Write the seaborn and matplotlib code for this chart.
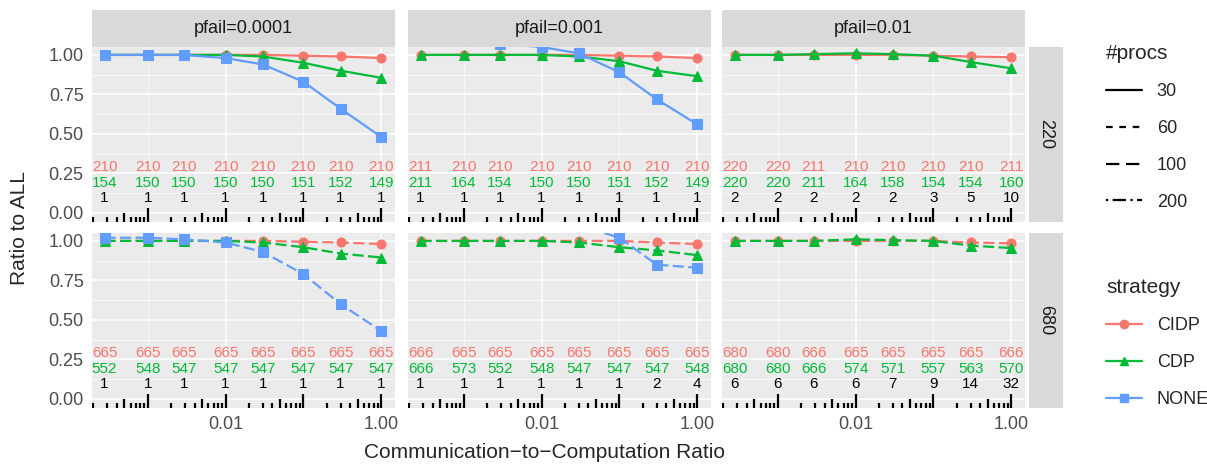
import numpy as np
import pandas as pd
import matplotlib
matplotlib.use("Agg")
import matplotlib.pyplot as plt
import matplotlib.ticker as mticker
import seaborn as sns
from matplotlib.lines import Line2D

ratios = [0.000278, 0.001, 0.0029, 0.01, 0.03, 0.1, 0.3, 1.0]
pfails = ["0.0001", "0.001", "0.01"]
nodes = ["220", "680"]
strategies = ["CIDP", "CDP", "NONE"]

cidp_220 = [[1, 1, 1, 1, 1, 0.995, 0.99, 0.98],
            [1, 1, 1, 1, 1, 0.995, 0.99, 0.98],
            [1, 1, 1, 1, 1, 0.995, 0.99, 0.985]]
cdp_220 = [[1, 1, 1, 1, 0.99, 0.95, 0.90, 0.855],
           [1, 1, 1, 1, 0.99, 0.96, 0.90, 0.865],
           [1, 1, 1.005, 1.01, 1.005, 0.995, 0.955, 0.915]]
none_220 = [[1.0, 1.0, 1.0, 0.98, 0.94, 0.83, 0.66, 0.48],
            [1.1, 1.1, 1.07, 1.05, 1.01, 0.89, 0.72, 0.56],
            None]
cidp_680 = [[1, 1, 1, 1, 1, 0.995, 0.99, 0.98],
            [1, 1, 1, 1, 1, 1.0, 0.99, 0.98],
            [1, 1, 1, 1, 1, 1.0, 0.99, 0.985]]
cdp_680 = [[1, 1, 1, 1, 0.99, 0.96, 0.92, 0.895],
           [1, 1, 1, 1, 0.99, 0.96, 0.94, 0.91],
           [1, 1, 1, 1.01, 1.005, 1.0, 0.97, 0.955]]
none_680 = [[1.02, 1.02, 1.01, 0.99, 0.93, 0.79, 0.60, 0.43],
            [1.2, 1.2, 1.2, 1.15, 1.1, 1.02, 0.85, 0.83],
            None]

red_220 = [[210]*8, [211, 210, 210, 210, 210, 210, 210, 210], [220, 220, 211, 210, 210, 210, 210, 211]]
green_220 = [[154, 150, 150, 150, 150, 151, 152, 149], [211, 164, 154, 150, 150, 151, 152, 149],
             [220, 220, 211, 164, 158, 154, 154, 160]]
black_220 = [[1]*8, [1]*8, [2, 2, 2, 2, 2, 3, 5, 10]]
red_680 = [[665]*8, [666, 665, 665, 665, 665, 665, 665, 665], [680, 680, 666, 665, 665, 665, 665, 666]]
green_680 = [[552, 548, 547, 547, 547, 547, 547, 547], [666, 573, 552, 548, 547, 547, 547, 548],
             [680, 680, 666, 574, 571, 557, 563, 570]]
black_680 = [[1]*8, [1, 1, 1, 1, 1, 1, 2, 4], [6, 6, 6, 6, 7, 9, 14, 32]]

vals = {"220": (cidp_220, cdp_220, none_220), "680": (cidp_680, cdp_680, none_680)}
counts = {"220": (red_220, green_220, black_220), "680": (red_680, green_680, black_680)}

colors = {"CIDP": "#F8766D", "CDP": "#00BA38", "NONE": "#619CFF"}
markers = {"CIDP": "o", "CDP": "^", "NONE": "s"}

sns.set_theme(style="darkgrid")
plt.rcParams["font.family"] = ["Liberation Sans", "DejaVu Sans"]
W, H = 1207, 471
fig = plt.figure(figsize=(W/100, H/100), dpi=100)

col_left = [92, 408, 722]
pw = 303
rows = [(47, 222), (233, 408)]
ylim = (-0.057, 1.05)

def fx(px): return px / W
def fy(py): return 1 - py / H

for r, node in enumerate(nodes):
    top, bot = rows[r]
    for c, pf in enumerate(pfails):
        ax = fig.add_axes([fx(col_left[c]), fy(bot), pw / W, (bot - top) / H])
        ax.set_facecolor("#EBEBEB")
        recs = []
        for s, arr in zip(strategies, vals[node]):
            if arr[c] is None:
                continue
            for x, y in zip(ratios, arr[c]):
                recs.append(dict(x=x, y=y, strategy=s))
        df = pd.DataFrame(recs)
        for s in strategies:
            d = df[df.strategy == s]
            if d.empty:
                continue
            sns.lineplot(data=d, x="x", y="y", ax=ax, color=colors[s], marker=markers[s],
                         markersize=6.5, markeredgecolor=colors[s], linewidth=1.6,
                         linestyle="-" if r == 0 else (0, (5, 2)), legend=False)
        ax.set_xscale("log")
        ax.set_xlim(0.000192, 1.5)
        ax.set_ylim(*ylim)
        ax.xaxis.set_major_locator(mticker.FixedLocator([0.01, 1.0]))
        ax.xaxis.set_minor_locator(mticker.FixedLocator([0.001, 0.1]))
        ax.xaxis.set_minor_formatter(mticker.NullFormatter())
        ax.set_yticks([0, 0.25, 0.5, 0.75, 1.0])
        ax.set_yticks([0.125, 0.375, 0.625, 0.875], minor=True)
        ax.grid(True, which="major", color="white", linewidth=1.1)
        ax.grid(True, which="minor", color="white", linewidth=0.5)
        ax.set_xlabel(""); ax.set_ylabel("")
        for sp in ax.spines.values():
            sp.set_visible(False)
        ax.tick_params(which="minor", length=0)
        ax.tick_params(which="major", length=4, color="#333333", width=1, labelsize=13,
                       labelcolor="#4D4D4D", pad=2)
        if r == 0:
            ax.xaxis.set_major_formatter(mticker.NullFormatter())
            ax.tick_params(axis="x", length=0)
        else:
            ax.xaxis.set_major_formatter(mticker.FixedFormatter(["0.01", "1.00"]))
        if c == 0:
            ax.set_yticklabels(["0.00", "0.25", "0.50", "0.75", "1.00"])
        else:
            ax.set_yticklabels([])
            ax.tick_params(axis="y", length=0)
        red, green, black = counts[node]
        for i, x in enumerate(ratios):
            ax.text(x, 0.29, str(red[c][i]), color=colors["CIDP"], ha="center", va="center", fontsize=11)
            ax.text(x, 0.19, str(green[c][i]), color=colors["CDP"], ha="center", va="center", fontsize=11)
            ax.text(x, 0.095, str(black[c][i]), color="black", ha="center", va="center", fontsize=11)
        tr = ax.get_xaxis_transform()
        for dec in range(-4, 1):
            for m in range(1, 10):
                xv = m * 10.0 ** dec
                if xv < 0.000192 or xv > 1.5:
                    continue
                h = 0.08 if m == 1 else (0.05 if m == 5 else 0.028)
                ax.add_line(Line2D([xv, xv], [0.0, h], transform=tr, color="black", lw=1.6,
                                   solid_capstyle="butt", zorder=5))
        if r == 0:
            sax = fig.add_axes([fx(col_left[c]), fy(47), pw / W, 37 / H])
            sax.set_facecolor("#D9D9D9"); sax.set_xticks([]); sax.set_yticks([])
            for sp in sax.spines.values(): sp.set_visible(False)
            sax.text(0.5, 0.5, f"pfail={pf}", ha="center", va="center", fontsize=13, color="#1A1A1A")
        if c == 2:
            sax = fig.add_axes([fx(1029), fy(bot), 34 / W, (bot - top) / H])
            sax.set_facecolor("#D9D9D9"); sax.set_xticks([]); sax.set_yticks([])
            for sp in sax.spines.values(): sp.set_visible(False)
            sax.text(0.5, 0.5, node, ha="center", va="center", fontsize=13, color="#1A1A1A", rotation=-90)

fig.text(fx(545), fy(452), "Communication\u2212to\u2212Computation Ratio", ha="center", va="center", fontsize=15)
fig.text(fx(20), fy(228), "Ratio to ALL", ha="center", va="center", fontsize=15, rotation=90)

lt_handles = [Line2D([], [], color="black", lw=1.6, linestyle=ls) for ls in
              ["-", (0, (3, 3)), (0, (6, 3)), (0, (1, 2, 6, 2))]]
fig.legend(lt_handles, ["30", "60", "100", "200"], title="#procs", loc="upper left",
           bbox_to_anchor=(fx(1090), fy(28)), frameon=False, fontsize=13, title_fontsize=15,
           handlelength=2, labelspacing=1.1, alignment="left")
st_handles = [Line2D([], [], color=colors[s], marker=markers[s], markersize=6, lw=1.6) for s in strategies]
fig.legend(st_handles, strategies, title="strategy", loc="upper left",
           bbox_to_anchor=(fx(1090), fy(262)), frameon=False, fontsize=13, title_fontsize=15,
           handlelength=2, labelspacing=1.1, alignment="left")
fig.savefig("out.png", dpi=100, facecolor="white")
